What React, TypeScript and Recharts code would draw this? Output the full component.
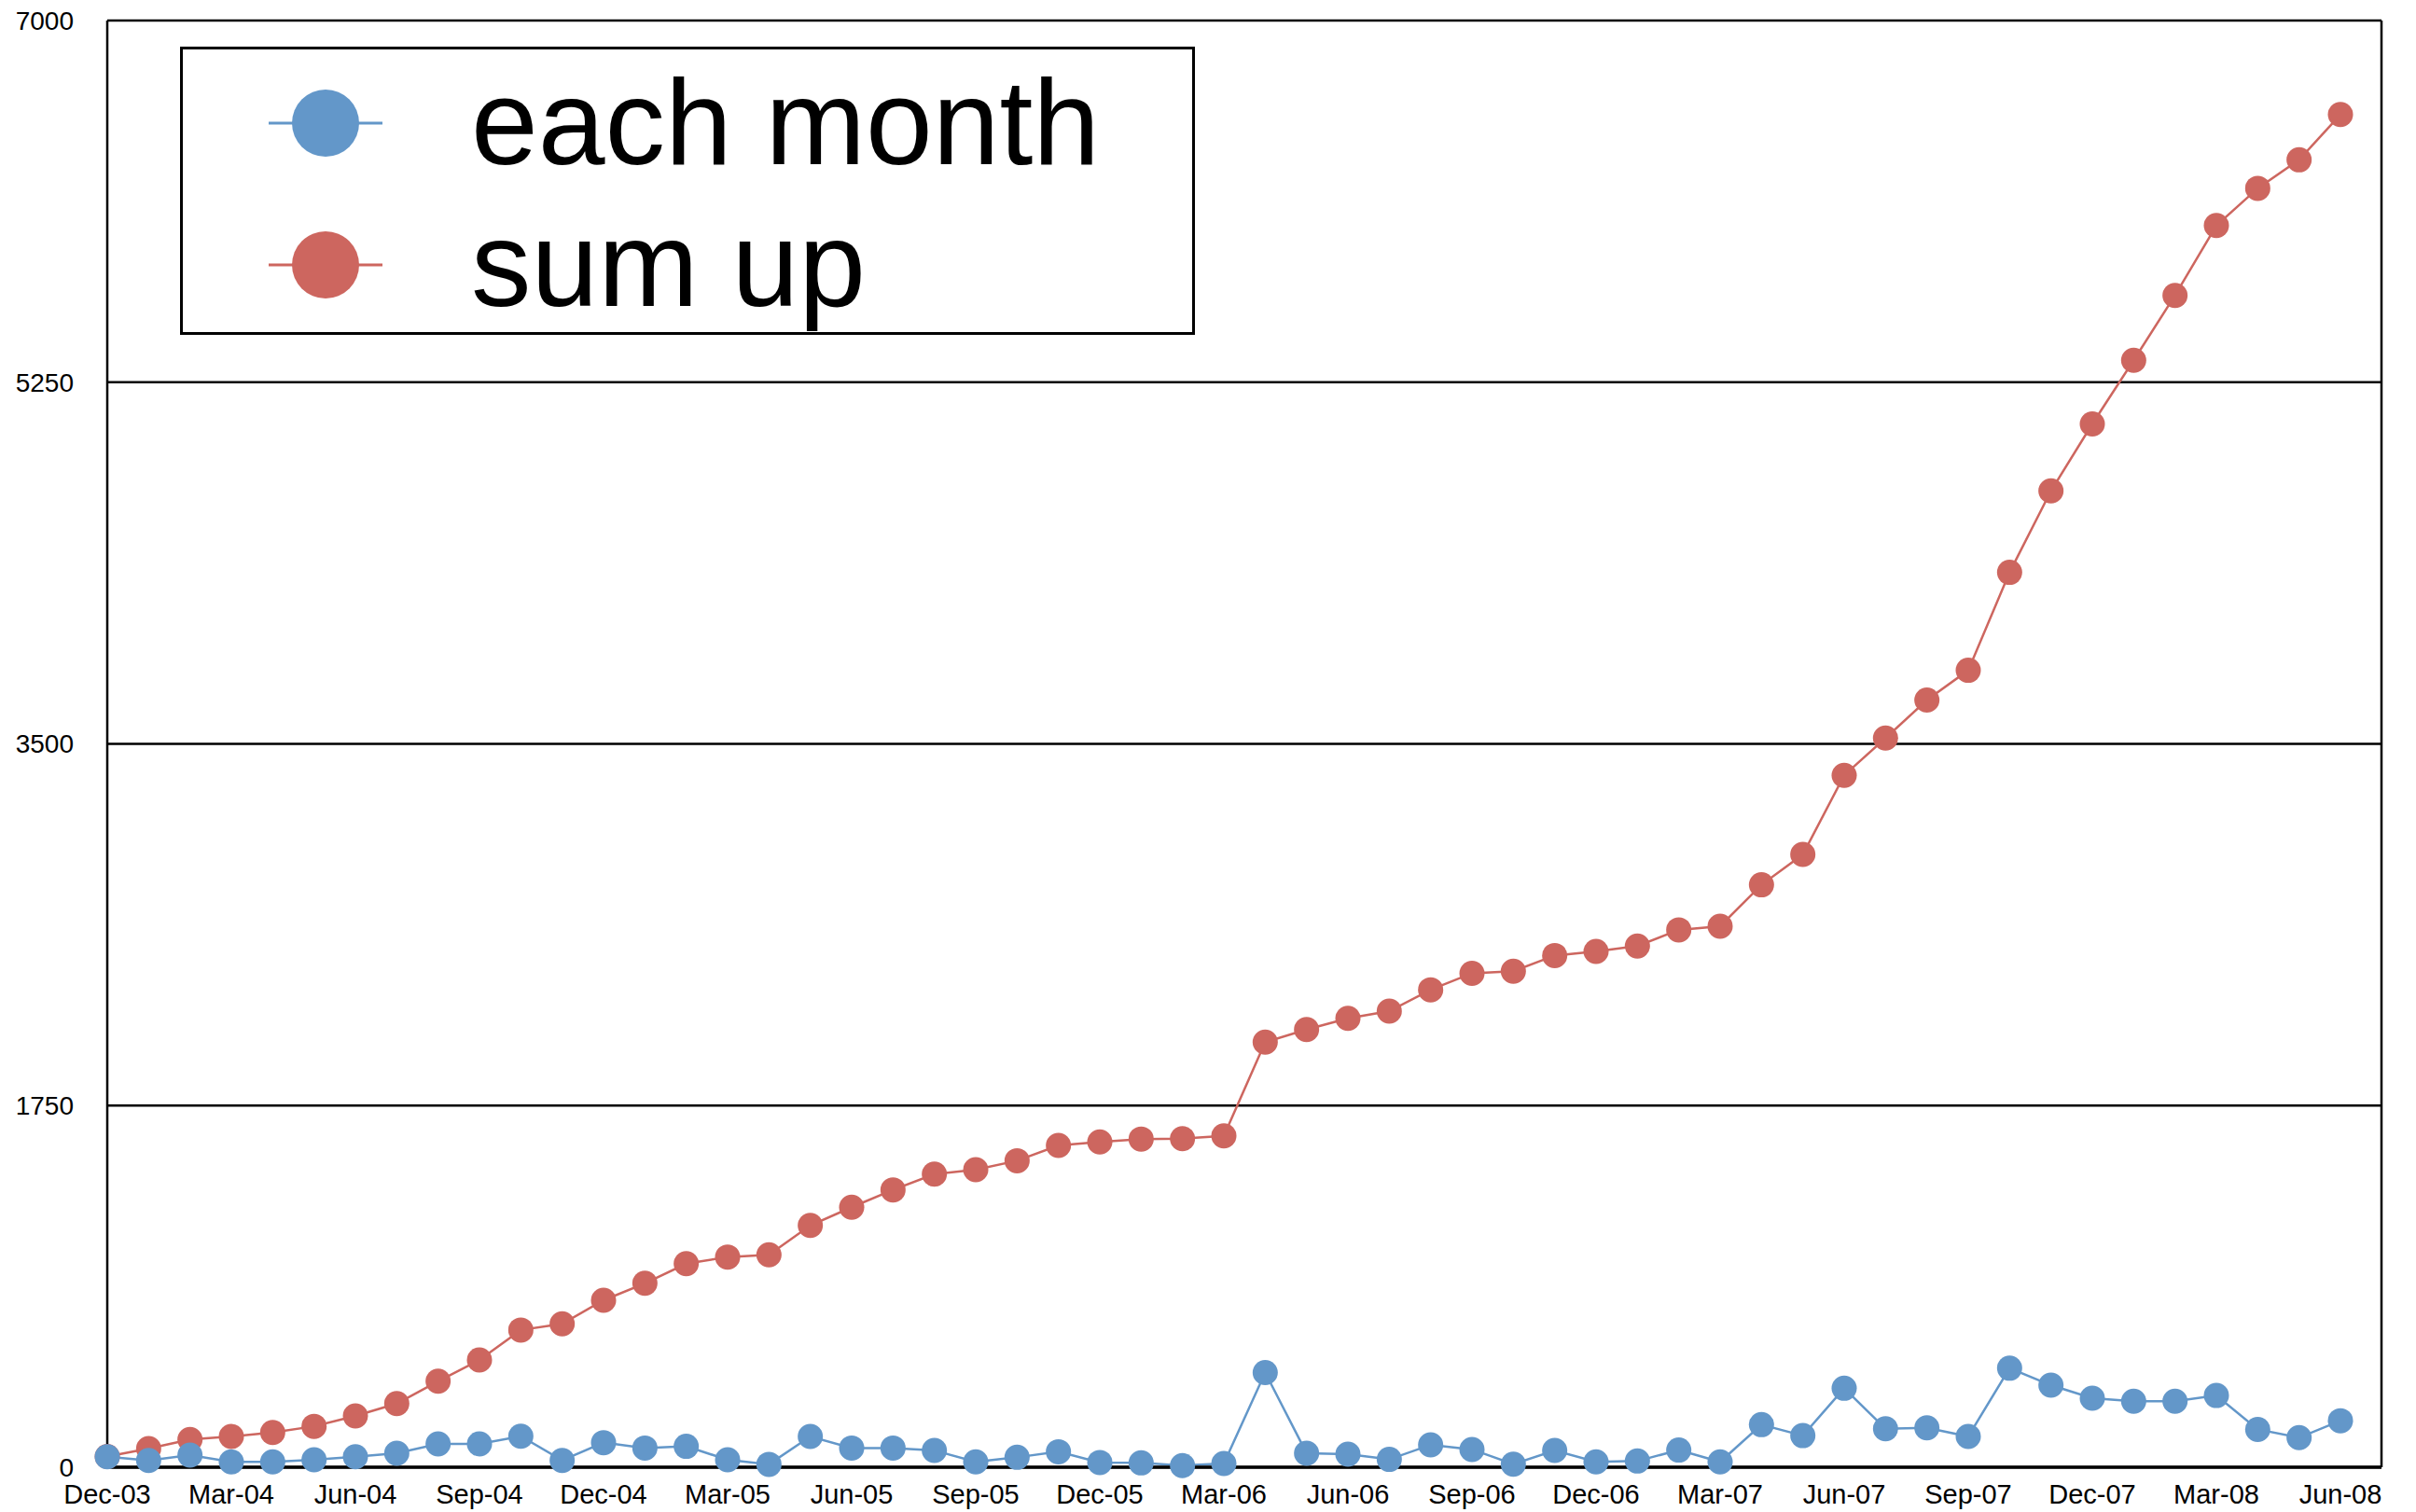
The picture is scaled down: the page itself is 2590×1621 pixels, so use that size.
import React from 'react';
import { LineChart, Line, XAxis, YAxis, CartesianGrid, Legend } from 'recharts';

const months = [
  'Dec-03', 'Jan-04', 'Feb-04', 'Mar-04', 'Apr-04', 'May-04', 'Jun-04', 'Jul-04', 'Aug-04', 'Sep-04', 'Oct-04', 'Nov-04',
  'Dec-04', 'Jan-05', 'Feb-05', 'Mar-05', 'Apr-05', 'May-05', 'Jun-05', 'Jul-05', 'Aug-05', 'Sep-05', 'Oct-05', 'Nov-05',
  'Dec-05', 'Jan-06', 'Feb-06', 'Mar-06', 'Apr-06', 'May-06', 'Jun-06', 'Jul-06', 'Aug-06', 'Sep-06', 'Oct-06', 'Nov-06',
  'Dec-06', 'Jan-07', 'Feb-07', 'Mar-07', 'Apr-07', 'May-07', 'Jun-07', 'Jul-07', 'Aug-07', 'Sep-07', 'Oct-07', 'Nov-07',
  'Dec-07', 'Jan-08', 'Feb-08', 'Mar-08', 'Apr-08', 'May-08', 'Jun-08',
];

const eachMonth = [
  51, 33, 59, 26, 26, 36, 51, 68, 113, 113, 150, 33,
  119, 93, 101, 36, 14, 149, 93, 93, 81, 26, 48, 75,
  23, 21, 8, 18, 458, 68, 63, 38, 108, 86, 15, 81,
  26, 30, 83, 26, 206, 153, 382, 186, 191, 149, 479, 397,
  334, 319, 319, 347, 183, 143, 225,
];

const sumUp = [
  52, 90, 134, 149, 168, 198, 248, 308, 416, 519, 664, 694,
  808, 890, 985, 1017, 1028, 1170, 1258, 1342, 1418, 1440, 1483, 1557,
  1574, 1588, 1590, 1603, 2057, 2118, 2172, 2207, 2310, 2390, 2400, 2476,
  2496, 2522, 2600, 2618, 2818, 2965, 3348, 3528, 3712, 3856, 4330, 4724,
  5048, 5356, 5670, 6008, 6188, 6326, 6545,
];

const yTicks = [0, 1750, 3500, 5250, 7000];

const BLUE = '#6397C9';
const RED = '#CD665F';
const FONT = '"Liberation Sans", Arial, Helvetica, sans-serif';

const data = months.map((m, i) => ({ month: m, each: eachMonth[i], sum: sumUp[i] }));

const legendItems = [
  { name: 'each month', color: BLUE },
  { name: 'sum up', color: RED },
];

function LegendBox() {
  return (
    <svg width={1088} height={309} style={{ display: 'block' }}>
      <rect x={1.5} y={1.5} width={1085} height={306} fill="#fff" stroke="#000" strokeWidth={3} />
      {legendItems.map((item, i) => {
        const cy = 82 + i * 152;
        return (
          <g key={item.name}>
            <line x1={95} x2={217} y1={cy} y2={cy} stroke={item.color} strokeWidth={3} />
            <circle cx={156} cy={cy} r={36} fill={item.color} />
            <text x={312} y={cy + 44} fontSize={129} fontFamily={FONT} fill="#000">
              {item.name}
            </text>
          </g>
        );
      })}
    </svg>
  );
}

export default function App() {
  return (
    <div style={{ position: 'absolute', left: 0, top: 0, width: 2590, height: 1621, background: '#fff' }}>
      <LineChart width={2590} height={1621} data={data} margin={{ top: 22, right: 36, bottom: 0, left: 0 }}>
        <CartesianGrid yAxisId="left" vertical={false} stroke="#000" strokeWidth={2.5} />
        <XAxis
          dataKey="month"
          interval={2}
          height={48}
          padding={{ left: 0, right: 44 }}
          tickLine={false}
          tickSize={0}
          tickMargin={18}
          axisLine={{ stroke: '#000', strokeWidth: 3.5 }}
          tick={{ fill: '#000', fontSize: 29, fontFamily: FONT }}
        />
        <YAxis
          yAxisId="left"
          width={115}
          domain={[0, 7000]}
          ticks={yTicks}
          interval={0}
          tickLine={false}
          tickSize={0}
          tickMargin={36}
          axisLine={{ stroke: '#000', strokeWidth: 2.5 }}
          tick={{ fill: '#000', fontSize: 28, fontFamily: FONT }}
        />
        <YAxis
          yAxisId="right"
          orientation="right"
          width={1}
          domain={[0, 7000]}
          ticks={yTicks}
          tick={false}
          tickLine={false}
          axisLine={{ stroke: '#000', strokeWidth: 2.5 }}
        />
        <Legend
          layout="vertical"
          verticalAlign="middle"
          align="center"
          wrapperStyle={{ position: 'absolute', left: 193, top: 50, width: 1088, height: 309, margin: 0 }}
          content={() => <LegendBox />}
        />
        <Line
          yAxisId="left"
          type="linear"
          dataKey="sum"
          name="sum up"
          stroke={RED}
          strokeWidth={2.5}
          dot={{ r: 13.5, fill: RED, stroke: RED, strokeWidth: 0 }}
          activeDot={false}
          isAnimationActive={false}
        />
        <Line
          yAxisId="left"
          type="linear"
          dataKey="each"
          name="each month"
          stroke={BLUE}
          strokeWidth={2.5}
          dot={{ r: 13.5, fill: BLUE, stroke: BLUE, strokeWidth: 0 }}
          activeDot={false}
          isAnimationActive={false}
        />
      </LineChart>
    </div>
  );
}
